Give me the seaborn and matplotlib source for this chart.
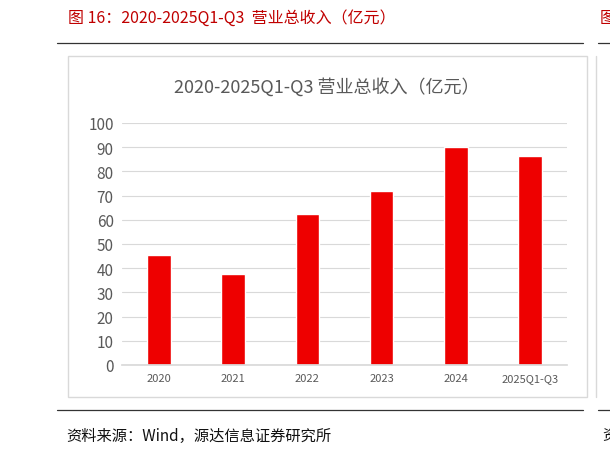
import matplotlib
matplotlib.use("Agg")
import matplotlib.pyplot as plt
import seaborn as sns
import pandas as pd
from matplotlib.patches import Rectangle
from matplotlib.lines import Line2D

categories = ["2020", "2021", "2022", "2023", "2024", "2025Q1-Q3"]
values = [45.5, 37.8, 62.5, 72.0, 90.2, 86.5]
yticks = [0, 10, 20, 30, 40, 50, 60, 70, 80, 90, 100]

sns.set_theme(style="white")
plt.rcParams['font.family'] = ['Noto Sans CJK SC', 'DejaVu Sans']

W, H = 610, 456
fig = plt.figure(figsize=(W/100, H/100), dpi=100)

def fx(x): return x / W
def fy(y): return 1 - y / H

fig.text(fx(68), fy(18), "图 16：2020-2025Q1-Q3  营业总收入（亿元）", color="#C00000",
         fontsize=11.5, va="center", ha="left")
fig.text(fx(600), fy(18), "图", color="#C00000", fontsize=11.5, va="center", ha="left")
fig.add_artist(Line2D([fx(57), fx(583)], [fy(44), fy(44)], color="#333333", lw=0.9))
fig.add_artist(Line2D([fx(598), fx(610)], [fy(44), fy(44)], color="#333333", lw=0.9))
fig.add_artist(Rectangle((fx(68), fy(398)), fx(587-68), fy(57)-fy(398),
                         fill=False, edgecolor="#D9D9D9", lw=1))
fig.add_artist(Line2D([fx(596), fx(596)], [fy(57), fy(398)], color="#D9D9D9", lw=1))
fig.add_artist(Line2D([fx(57), fx(583)], [fy(411), fy(411)], color="#333333", lw=0.9))
fig.add_artist(Line2D([fx(598), fx(610)], [fy(411), fy(411)], color="#333333", lw=0.9))
fig.text(fx(66), fy(436), "资料来源：Wind，源达信息证券研究所", color="#111111",
         fontsize=11, va="center", ha="left")
fig.text(fx(602), fy(436), "资", color="#111111", fontsize=11, va="center", ha="left")
fig.text(fx(327), fy(87), "2020-2025Q1-Q3 营业总收入（亿元）", color="#595959",
         fontsize=13, va="center", ha="center")

ax = fig.add_axes([fx(122), fy(366), fx(567-122), fy(124)-fy(366)])
df = pd.DataFrame({"cat": categories, "val": values})
sns.barplot(data=df, x="cat", y="val", color="#EE0000", saturation=1, width=0.32, ax=ax)
ax.set_ylim(0, 100)
ax.set_yticks(yticks)
ax.set_yticklabels([str(t) for t in yticks], color="#595959", fontsize=11)
ax.tick_params(axis="x", labelsize=8, colors="#595959", length=0, pad=6)
ax.tick_params(axis="y", length=0, pad=6)
ax.set_xlabel(""); ax.set_ylabel("")
ax.grid(axis="y", color="#D9D9D9", lw=0.8)
ax.set_axisbelow(True)
for s in ["top", "right", "left"]:
    ax.spines[s].set_visible(False)
ax.spines["bottom"].set_color("#D9D9D9")
fig.savefig("out.png", dpi=100)
